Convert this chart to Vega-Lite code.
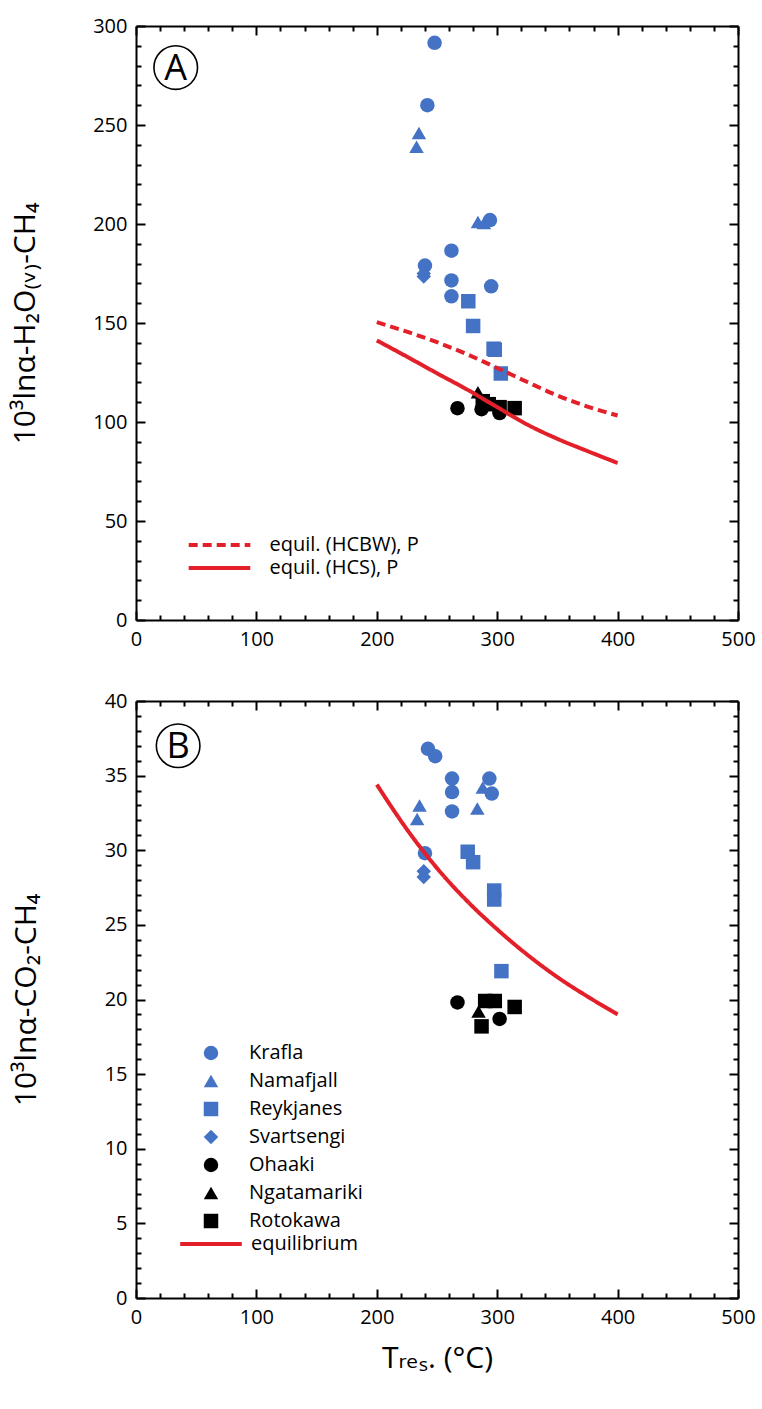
{
  "$schema": "https://vega.github.io/schema/vega-lite/v6.json",
  "background": "white",
  "padding": {"left": 10, "top": 16, "right": 0, "bottom": 0},
  "config": {
    "font": "Open Sans",
    "view": {"stroke": null},
    "axis": {"domainColor": "black", "domainWidth": 2, "tickColor": "black", "tickWidth": 2, "grid": false, "labelFont": "Open Sans", "labelFontSize": 20, "labelColor": "black", "titleFont": "Open Sans, DejaVu Sans", "titleFontSize": 30, "titleFontWeight": "normal", "titleColor": "black"},
    "legend": {"labelFont": "Open Sans", "labelFontSize": 20, "labelColor": "black"}
  },
  "datasets": {
    "ptsA": [
      {"site": "Krafla", "T": 248, "v": 291.5},
      {"site": "Krafla", "T": 242, "v": 260},
      {"site": "Krafla", "T": 294, "v": 202},
      {"site": "Krafla", "T": 262, "v": 186.5},
      {"site": "Krafla", "T": 240, "v": 179},
      {"site": "Krafla", "T": 262, "v": 171.5},
      {"site": "Krafla", "T": 295, "v": 168.5},
      {"site": "Krafla", "T": 262, "v": 163.5},
      {"site": "Namafjall", "T": 235, "v": 246},
      {"site": "Namafjall", "T": 233, "v": 239},
      {"site": "Namafjall", "T": 284, "v": 201},
      {"site": "Namafjall", "T": 289, "v": 200.5},
      {"site": "Svartsengi", "T": 239, "v": 175},
      {"site": "Svartsengi", "T": 239, "v": 173.5},
      {"site": "Reykjanes", "T": 276, "v": 161},
      {"site": "Reykjanes", "T": 280, "v": 148.5},
      {"site": "Reykjanes", "T": 297, "v": 137},
      {"site": "Reykjanes", "T": 298, "v": 136.5},
      {"site": "Reykjanes", "T": 303, "v": 124.5},
      {"site": "Ohaaki", "T": 267, "v": 107},
      {"site": "Ohaaki", "T": 287, "v": 106.5},
      {"site": "Ohaaki", "T": 302, "v": 104.5},
      {"site": "Ngatamariki", "T": 284, "v": 115},
      {"site": "Rotokawa", "T": 288, "v": 110.5},
      {"site": "Rotokawa", "T": 293, "v": 109},
      {"site": "Rotokawa", "T": 302, "v": 107.5},
      {"site": "Rotokawa", "T": 314.5, "v": 107}
    ],
    "ptsB": [
      {"site": "Krafla", "T": 242.5, "v": 36.8},
      {"site": "Krafla", "T": 248.5, "v": 36.3},
      {"site": "Krafla", "T": 262.5, "v": 34.8},
      {"site": "Krafla", "T": 293.5, "v": 34.8},
      {"site": "Krafla", "T": 262.5, "v": 33.9},
      {"site": "Krafla", "T": 295.5, "v": 33.8},
      {"site": "Krafla", "T": 262.5, "v": 32.6},
      {"site": "Krafla", "T": 240, "v": 29.8},
      {"site": "Namafjall", "T": 235.5, "v": 33.0},
      {"site": "Namafjall", "T": 233.5, "v": 32.1},
      {"site": "Namafjall", "T": 288, "v": 34.2},
      {"site": "Namafjall", "T": 283.5, "v": 32.8},
      {"site": "Svartsengi", "T": 239, "v": 28.6},
      {"site": "Svartsengi", "T": 239, "v": 28.2},
      {"site": "Reykjanes", "T": 275.5, "v": 29.9},
      {"site": "Reykjanes", "T": 280, "v": 29.2},
      {"site": "Reykjanes", "T": 297.5, "v": 27.3},
      {"site": "Reykjanes", "T": 297.5, "v": 26.7},
      {"site": "Reykjanes", "T": 303.5, "v": 21.9},
      {"site": "Ohaaki", "T": 267, "v": 19.8},
      {"site": "Ohaaki", "T": 302, "v": 18.7},
      {"site": "Ngatamariki", "T": 284.5, "v": 19.2},
      {"site": "Rotokawa", "T": 290, "v": 19.9},
      {"site": "Rotokawa", "T": 298, "v": 19.9},
      {"site": "Rotokawa", "T": 314.5, "v": 19.5},
      {"site": "Rotokawa", "T": 287, "v": 18.2}
    ],
    "eqA": [
      {"curve": "equil. (HCBW), P", "T": 200, "v": 150.4},
      {"curve": "equil. (HCBW), P", "T": 225, "v": 145.6},
      {"curve": "equil. (HCBW), P", "T": 250, "v": 140.3},
      {"curve": "equil. (HCBW), P", "T": 275, "v": 134.2},
      {"curve": "equil. (HCBW), P", "T": 300, "v": 127.3},
      {"curve": "equil. (HCBW), P", "T": 325, "v": 120.2},
      {"curve": "equil. (HCBW), P", "T": 350, "v": 113.4},
      {"curve": "equil. (HCBW), P", "T": 375, "v": 107.8},
      {"curve": "equil. (HCBW), P", "T": 400, "v": 103.3},
      {"curve": "equil. (HCS), P", "T": 200, "v": 141.2},
      {"curve": "equil. (HCS), P", "T": 225, "v": 133},
      {"curve": "equil. (HCS), P", "T": 250, "v": 124.6},
      {"curve": "equil. (HCS), P", "T": 275, "v": 116.4},
      {"curve": "equil. (HCS), P", "T": 300, "v": 107.5},
      {"curve": "equil. (HCS), P", "T": 325, "v": 98.7},
      {"curve": "equil. (HCS), P", "T": 350, "v": 91.5},
      {"curve": "equil. (HCS), P", "T": 375, "v": 85.3},
      {"curve": "equil. (HCS), P", "T": 400, "v": 79.3}
    ],
    "eqB": [
      {"curve": "equilibrium", "T": 200, "v": 34.4},
      {"curve": "equilibrium", "T": 225, "v": 31.4},
      {"curve": "equilibrium", "T": 250, "v": 28.8},
      {"curve": "equilibrium", "T": 275, "v": 26.6},
      {"curve": "equilibrium", "T": 300, "v": 24.7},
      {"curve": "equilibrium", "T": 325, "v": 23.0},
      {"curve": "equilibrium", "T": 350, "v": 21.5},
      {"curve": "equilibrium", "T": 375, "v": 20.2},
      {"curve": "equilibrium", "T": 400, "v": 19.0}
    ],
    "tagA": [{"tag": "A", "T": 33, "v": 279}],
    "tagB": [{"tag": "B", "T": 35, "v": 37}]
  },
  "spacing": 38,
  "resolve": {"scale": {"color": "independent", "shape": "independent", "strokeDash": "independent"}},
  "vconcat": [
    {
      "width": 602,
      "height": 594,
      "resolve": {"axis": {"x": "independent", "y": "independent"}},
      "layer": [
        {
          "data": {"name": "ptsA"},
          "mark": {"type": "point", "filled": true, "opacity": 1, "size": 210},
          "encoding": {
            "x": {"field": "T", "type": "quantitative", "scale": {"domain": [0, 500], "nice": false, "zero": false},
              "axis": {"orient": "bottom", "values": [0,20,40,60,80,100,120,140,160,180,200,220,240,260,280,300,320,340,360,380,400,420,440,460,480,500],
                "tickSize": {"condition": {"test": "datum.value % 100 === 0", "value": -9}, "value": -5},
                "labelExpr": "datum.value % 100 === 0 ? datum.label : ''", "labelPadding": 18, "labelFlush": false, "labelOverlap": false, "title": null}},
            "y": {"field": "v", "type": "quantitative", "scale": {"domain": [0, 300], "nice": false},
              "axis": {"orient": "left", "values": [0,10,20,30,40,50,60,70,80,90,100,110,120,130,140,150,160,170,180,190,200,210,220,230,240,250,260,270,280,290,300],
                "tickSize": {"condition": {"test": "datum.value % 50 === 0", "value": -9}, "value": -5},
                "labelExpr": "datum.value % 50 === 0 ? datum.label : ''", "labelPadding": 18, "labelFlush": false, "labelOverlap": false,
                "title": "10³lnα-H₂O₍ᵥ₎-CH₄", "titlePadding": 52}},
            "color": {"field": "site", "type": "nominal",
              "scale": {"domain": ["Krafla","Namafjall","Reykjanes","Svartsengi","Ohaaki","Ngatamariki","Rotokawa"], "range": ["#4472C4","#4472C4","#4472C4","#4472C4","#000000","#000000","#000000"]},
              "legend": null},
            "shape": {"field": "site", "type": "nominal",
              "scale": {"domain": ["Krafla","Namafjall","Reykjanes","Svartsengi","Ohaaki","Ngatamariki","Rotokawa"], "range": ["circle","triangle-up","square","diamond","circle","triangle-up","square"]},
              "legend": null}
          }
        },
        {
          "data": {"name": "eqA"},
          "mark": {"type": "line", "color": "#E3202A", "strokeWidth": 4, "interpolate": "monotone"},
          "encoding": {
            "x": {"field": "T", "type": "quantitative", "scale": {"domain": [0, 500], "nice": false, "zero": false},
              "axis": {"orient": "top", "values": [0,20,40,60,80,100,120,140,160,180,200,220,240,260,280,300,320,340,360,380,400,420,440,460,480,500],
                "tickSize": {"condition": {"test": "datum.value % 100 === 0", "value": -9}, "value": -5}, "labels": false, "title": null}},
            "y": {"field": "v", "type": "quantitative", "scale": {"domain": [0, 300], "nice": false},
              "axis": {"orient": "right", "values": [0,10,20,30,40,50,60,70,80,90,100,110,120,130,140,150,160,170,180,190,200,210,220,230,240,250,260,270,280,290,300],
                "tickSize": {"condition": {"test": "datum.value % 50 === 0", "value": -9}, "value": -5}, "labels": false, "title": null}},
            "strokeDash": {"field": "curve", "type": "nominal",
              "scale": {"domain": ["equil. (HCBW), P", "equil. (HCS), P"], "range": [[9, 5], [1, 0]]},
              "legend": {"orient": "none", "legendX": 73.5, "legendY": 509, "title": null, "symbolType": "M-4.4,0L4.4,0", "symbolSize": 196, "symbolStrokeWidth": 4, "symbolStrokeColor": "#E3202A", "symbolFillColor": "transparent", "labelOffset": 40, "rowPadding": 3}}
          }
        },
        {
          "data": {"name": "tagA"},
          "mark": {"type": "point", "shape": "circle", "filled": false, "size": 1900, "color": "black", "strokeWidth": 1.6, "opacity": 1},
          "encoding": {
            "x": {"field": "T", "type": "quantitative", "axis": null},
            "y": {"field": "v", "type": "quantitative", "axis": null}
          }
        },
        {
          "data": {"name": "tagA"},
          "mark": {"type": "text", "fontSize": 36, "color": "black", "align": "center", "baseline": "middle", "dy": 1},
          "encoding": {
            "x": {"field": "T", "type": "quantitative", "axis": null},
            "y": {"field": "v", "type": "quantitative", "axis": null},
            "text": {"field": "tag"}
          }
        }
      ]
    },
    {
      "width": 602,
      "height": 597,
      "resolve": {"axis": {"x": "independent", "y": "independent"}},
      "layer": [
        {
          "data": {"name": "ptsB"},
          "mark": {"type": "point", "filled": true, "opacity": 1, "size": 210},
          "encoding": {
            "x": {"field": "T", "type": "quantitative", "scale": {"domain": [0, 500], "nice": false, "zero": false},
              "axis": {"orient": "bottom", "values": [0,20,40,60,80,100,120,140,160,180,200,220,240,260,280,300,320,340,360,380,400,420,440,460,480,500],
                "tickSize": {"condition": {"test": "datum.value % 100 === 0", "value": -9}, "value": -5},
                "labelExpr": "datum.value % 100 === 0 ? datum.label : ''", "labelPadding": 18, "labelFlush": false, "labelOverlap": false,
                "title": "Tᵣₑₛ. (°C)", "titlePadding": 12}},
            "y": {"field": "v", "type": "quantitative", "scale": {"domain": [0, 40], "nice": false},
              "axis": {"orient": "left", "values": [0,1,2,3,4,5,6,7,8,9,10,11,12,13,14,15,16,17,18,19,20,21,22,23,24,25,26,27,28,29,30,31,32,33,34,35,36,37,38,39,40],
                "tickSize": {"condition": {"test": "datum.value % 5 === 0", "value": -9}, "value": -5},
                "labelExpr": "datum.value % 5 === 0 ? datum.label : ''", "labelPadding": 18, "labelFlush": false, "labelOverlap": false,
                "title": "10³lnα-CO₂-CH₄", "titlePadding": 63}},
            "color": {"field": "site", "type": "nominal",
              "scale": {"domain": ["Krafla","Namafjall","Reykjanes","Svartsengi","Ohaaki","Ngatamariki","Rotokawa"], "range": ["#4472C4","#4472C4","#4472C4","#4472C4","#000000","#000000","#000000"]},
              "legend": {"orient": "none", "legendX": 65, "legendY": 342, "title": null, "symbolSize": 210, "labelOffset": 28, "rowPadding": 8, "symbolStrokeWidth": 0}},
            "shape": {"field": "site", "type": "nominal",
              "scale": {"domain": ["Krafla","Namafjall","Reykjanes","Svartsengi","Ohaaki","Ngatamariki","Rotokawa"], "range": ["circle","triangle-up","square","diamond","circle","triangle-up","square"]},
              "legend": {"orient": "none", "legendX": 65, "legendY": 342, "title": null, "symbolSize": 210, "labelOffset": 28, "rowPadding": 8, "symbolStrokeWidth": 0}}
          }
        },
        {
          "data": {"name": "eqB"},
          "mark": {"type": "line", "color": "#E3202A", "strokeWidth": 4, "interpolate": "monotone"},
          "encoding": {
            "x": {"field": "T", "type": "quantitative", "scale": {"domain": [0, 500], "nice": false, "zero": false},
              "axis": {"orient": "top", "values": [0,20,40,60,80,100,120,140,160,180,200,220,240,260,280,300,320,340,360,380,400,420,440,460,480,500],
                "tickSize": {"condition": {"test": "datum.value % 100 === 0", "value": -9}, "value": -5}, "labels": false, "title": null}},
            "y": {"field": "v", "type": "quantitative", "scale": {"domain": [0, 40], "nice": false},
              "axis": {"orient": "right", "values": [0,1,2,3,4,5,6,7,8,9,10,11,12,13,14,15,16,17,18,19,20,21,22,23,24,25,26,27,28,29,30,31,32,33,34,35,36,37,38,39,40],
                "tickSize": {"condition": {"test": "datum.value % 5 === 0", "value": -9}, "value": -5}, "labels": false, "title": null}},
            "strokeDash": {"field": "curve", "type": "nominal",
              "scale": {"domain": ["equilibrium"], "range": [[1, 0]]},
              "legend": {"orient": "none", "legendX": 65, "legendY": 533, "title": null, "symbolType": "M-4.4,0L4.4,0", "symbolSize": 196, "symbolStrokeWidth": 4, "symbolStrokeColor": "#E3202A", "symbolFillColor": "transparent", "labelOffset": 30}}
          }
        },
        {
          "data": {"name": "tagB"},
          "mark": {"type": "point", "shape": "circle", "filled": false, "size": 1900, "color": "black", "strokeWidth": 1.6, "opacity": 1},
          "encoding": {
            "x": {"field": "T", "type": "quantitative", "axis": null},
            "y": {"field": "v", "type": "quantitative", "axis": null}
          }
        },
        {
          "data": {"name": "tagB"},
          "mark": {"type": "text", "fontSize": 36, "color": "black", "align": "center", "baseline": "middle", "dy": 1},
          "encoding": {
            "x": {"field": "T", "type": "quantitative", "axis": null},
            "y": {"field": "v", "type": "quantitative", "axis": null},
            "text": {"field": "tag"}
          }
        }
      ]
    }
  ]
}
